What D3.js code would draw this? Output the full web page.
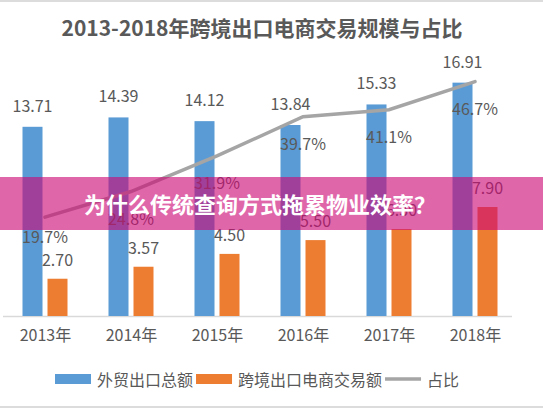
<!DOCTYPE html>
<html>
<head>
<meta charset="utf-8">
<script src="https://cdn.jsdelivr.net/npm/d3@7"></script>
<style>
  body { margin: 0; background: #fff; }
  svg { display: block; font-family: "Noto Sans CJK SC", "Noto Sans", sans-serif; }
</style>
</head>
<body>
<svg width="543" height="408"></svg>
<script>
var years = ["2013年", "2014年", "2015年", "2016年", "2017年", "2018年"];
var exportTotal = [13.71, 14.39, 14.12, 13.84, 15.33, 16.91];
var ecomTotal = [2.70, 3.57, 4.50, 5.50, 6.30, 7.90];
var share = [0.197, 0.248, 0.319, 0.397, 0.411, 0.467];
var seriesNames = ["外贸出口总额", "跨境出口电商交易额", "占比"];
var title = "2013-2018年跨境出口电商交易规模与占比";
var banner = "为什么传统查询方式拖累物业效率？";

var svg = d3.select("svg");
var labelColor = "#595959";
var blue = "#5b9bd5", orange = "#ed7d31", gray = "#a5a5a5";
var baseY = 316, topY = 40;

// frame lines
svg.append("line").attr("x1", 0).attr("x2", 543).attr("y1", 1).attr("y2", 1)
  .attr("stroke", "#dcdcdc").attr("stroke-width", 2);
svg.append("line").attr("x1", 0).attr("x2", 543).attr("y1", 407).attr("y2", 407)
  .attr("stroke", "#dcdcdc").attr("stroke-width", 2);

// title
svg.append("text")
  .attr("x", 262).attr("y", 27)
  .attr("text-anchor", "middle").attr("dominant-baseline", "central")
  .attr("font-size", 21).attr("font-weight", "bold")
  .attr("fill", labelColor)
  .text(title);

var x = d3.scalePoint().domain(years).range([45, 475]);
var x1 = d3.scaleBand().domain([0, 1]).range([-22.5, 22.5]).paddingInner(0.2);
var y = d3.scaleLinear().domain([0, 20]).range([baseY, topY]);
var yp = d3.scaleLinear().domain([0, 0.55]).range([baseY, topY]);

// x axis
var xAxis = svg.append("g").attr("transform", "translate(0," + baseY + ")")
  .call(d3.axisBottom(x).tickSize(0).tickPadding(14));
xAxis.select(".domain").attr("d", "M3,0.5H512").attr("stroke", "#d9d9d9").attr("stroke-width", 1.5);
xAxis.selectAll("text").attr("font-size", 16).attr("fill", labelColor)
  .attr("font-family", "Noto Sans CJK SC");

var groups = [exportTotal, ecomTotal];
var colors = [blue, orange];

groups.forEach(function(vals, s) {
  svg.append("g").selectAll("rect").data(vals).enter().append("rect")
    .attr("x", function(d, i) { return x(years[i]) + x1(s); })
    .attr("width", x1.bandwidth())
    .attr("y", function(d) { return y(d); })
    .attr("height", function(d) { return baseY - y(d); })
    .attr("fill", colors[s]);

  svg.append("g").selectAll("text").data(vals).enter().append("text")
    .attr("x", function(d, i) { return x(years[i]) + x1(s) + x1.bandwidth() / 2; })
    .attr("y", function(d) { return y(d) - (s === 0 ? 22 : 20); })
    .attr("text-anchor", "middle").attr("dominant-baseline", "central")
    .attr("font-size", 16).attr("fill", labelColor)
    .text(function(d) { return d.toFixed(2); });
});

// share line
var line = d3.line()
  .x(function(d, i) { return x(years[i]); })
  .y(function(d) { return yp(d); });
svg.append("path").datum(share)
  .attr("d", line)
  .attr("fill", "none").attr("stroke", gray).attr("stroke-width", 3.5)
  .attr("stroke-linecap", "round");

svg.append("g").selectAll("text").data(share).enter().append("text")
  .attr("x", function(d, i) { return x(years[i]); })
  .attr("y", function(d, i) { return yp(d) + (i === 0 ? 19 : 26); })
  .attr("text-anchor", "middle").attr("dominant-baseline", "central")
  .attr("font-size", 16).attr("fill", labelColor)
  .text(function(d) { return (d * 100).toFixed(1) + "%"; });

// legend
var legend = svg.append("g");
var lx = 55, ly = 379;
seriesNames.forEach(function(name, i) {
  if (i < 2) {
    legend.append("rect").attr("x", lx).attr("y", ly - 5).attr("width", 36).attr("height", 10)
      .attr("fill", colors[i]);
  } else {
    legend.append("line").attr("x1", lx).attr("x2", lx + 36).attr("y1", ly).attr("y2", ly)
      .attr("stroke", gray).attr("stroke-width", 3.5);
  }
  var t = legend.append("text")
    .attr("x", lx + 42).attr("y", ly)
    .attr("dominant-baseline", "central")
    .attr("font-size", 16).attr("fill", labelColor)
    .text(name);
  lx = lx + 42 + t.node().getComputedTextLength() + 3;
});

// overlay banner
svg.append("rect")
  .attr("x", 0).attr("y", 177).attr("width", 543).attr("height", 53)
  .attr("fill", "rgb(205,8,118)").attr("fill-opacity", 0.62);
svg.append("text")
  .attr("x", 260).attr("y", 203)
  .attr("text-anchor", "middle").attr("dominant-baseline", "central")
  .attr("font-size", 22).attr("font-weight", "bold")
  .attr("fill", "#fff")
  .text(banner);
</script>
</body>
</html>
